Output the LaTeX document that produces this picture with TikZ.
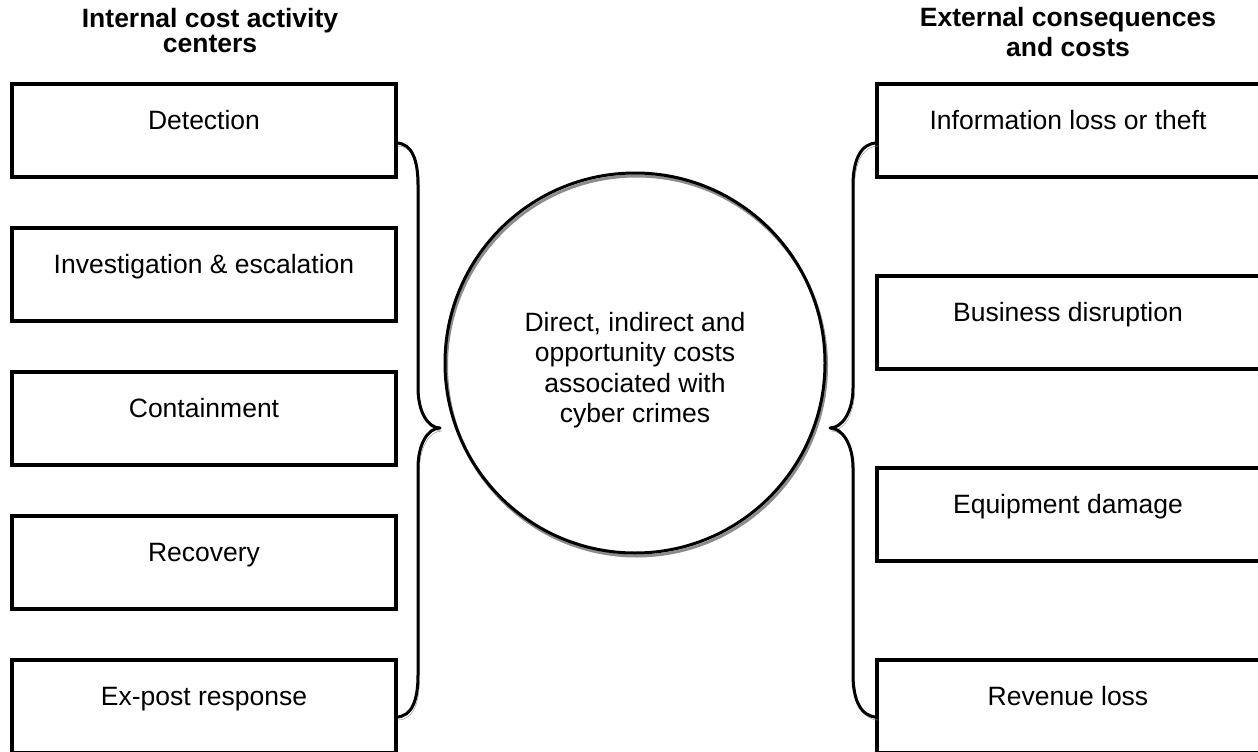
\documentclass[tikz,border=0pt]{standalone}
\usepackage{fontspec}
\setmainfont{Liberation Sans}
\begin{document}
\begin{tikzpicture}[x=1pt,y=-1pt,
  box/.style={draw,line width=3.5pt,minimum width=384pt,minimum height=93pt,inner sep=0pt,outer sep=0pt,anchor=north west},
  lbl/.style={font=\fontsize{26.5pt}{30.5pt}\selectfont,inner sep=0pt,anchor=base},
  ttlL/.style={font=\fontsize{26.5pt}{25.5pt}\selectfont\bfseries,align=center,inner sep=0pt},
  ttlR/.style={font=\fontsize{26.5pt}{30pt}\selectfont\bfseries,align=center,inner sep=0pt},
  shadowed/.style={preaction={draw=black!45,transform canvas={xshift=1.5pt,yshift=-3pt}}},
  brc/.style={line width=3pt,line join=round,shadowed},
  ring/.style={circle,draw,line width=3pt,minimum size=380pt,inner sep=0pt,outer sep=0pt,shadowed}]
\clip (0,0) rectangle (1258,752);
\useasboundingbox (0,0) rectangle (1258,752);
% titles
\node[ttlL] (tL) at (210,30.5) {Internal cost activity\\centers};
\node[ttlR] (tR) at (1068,32.5) {External consequences\\and costs};
% left boxes
\node[box] (l1) at (12,84) {};
\node[box] (l2) at (12,228) {};
\node[box] (l3) at (12,372) {};
\node[box] (l4) at (12,516) {};
\node[box] (l5) at (12,660) {};
\node[lbl] (tl1) at (204,129) {Detection};
\node[lbl] (tl2) at (204,273) {Investigation \& escalation};
\node[lbl] (tl3) at (204,417) {Containment};
\node[lbl] (tl4) at (204,561) {Recovery};
\node[lbl] (tl5) at (204,705) {Ex-post response};
% right boxes
\node[box] (r1) at (877,84) {};
\node[box] (r2) at (877,276) {};
\node[box] (r3) at (877,468) {};
\node[box] (r4) at (877,660) {};
\node[lbl] (tr1) at (1068,129) {Information loss or theft};
\node[lbl] (tr2) at (1068,321) {Business disruption};
\node[lbl] (tr3) at (1068,513) {Equipment damage};
\node[lbl] (tr4) at (1068,705) {Revenue loss};
% central circle
\node[ring] (c) at (635,363) {};
\node[lbl,anchor=center,align=center] (ct) at (635,370) {Direct, indirect and\\opportunity costs\\associated with\\cyber crimes};
% brace end points
\coordinate (la) at (396,143);
\coordinate (lb) at (396,717);
\coordinate (ltip) at (440,428);
\coordinate (ra) at (877,143);
\coordinate (rb) at (877,717);
\coordinate (rtip) at (830,428);
% braces
\draw[brc] (la) .. controls (412,143) and (418,160) .. (418,185) -- (418,388)
  .. controls (418,412) and (428,428) .. (ltip)
  .. controls (428,428) and (418,444) .. (418,468) -- (418,675)
  .. controls (418,700) and (412,717) .. (lb);
\draw[brc] (ra) .. controls (861,143) and (853,160) .. (853,185) -- (853,388)
  .. controls (853,412) and (842,428) .. (rtip)
  .. controls (842,428) and (853,444) .. (853,468) -- (853,675)
  .. controls (853,700) and (861,717) .. (rb);
\end{tikzpicture}
\end{document}
